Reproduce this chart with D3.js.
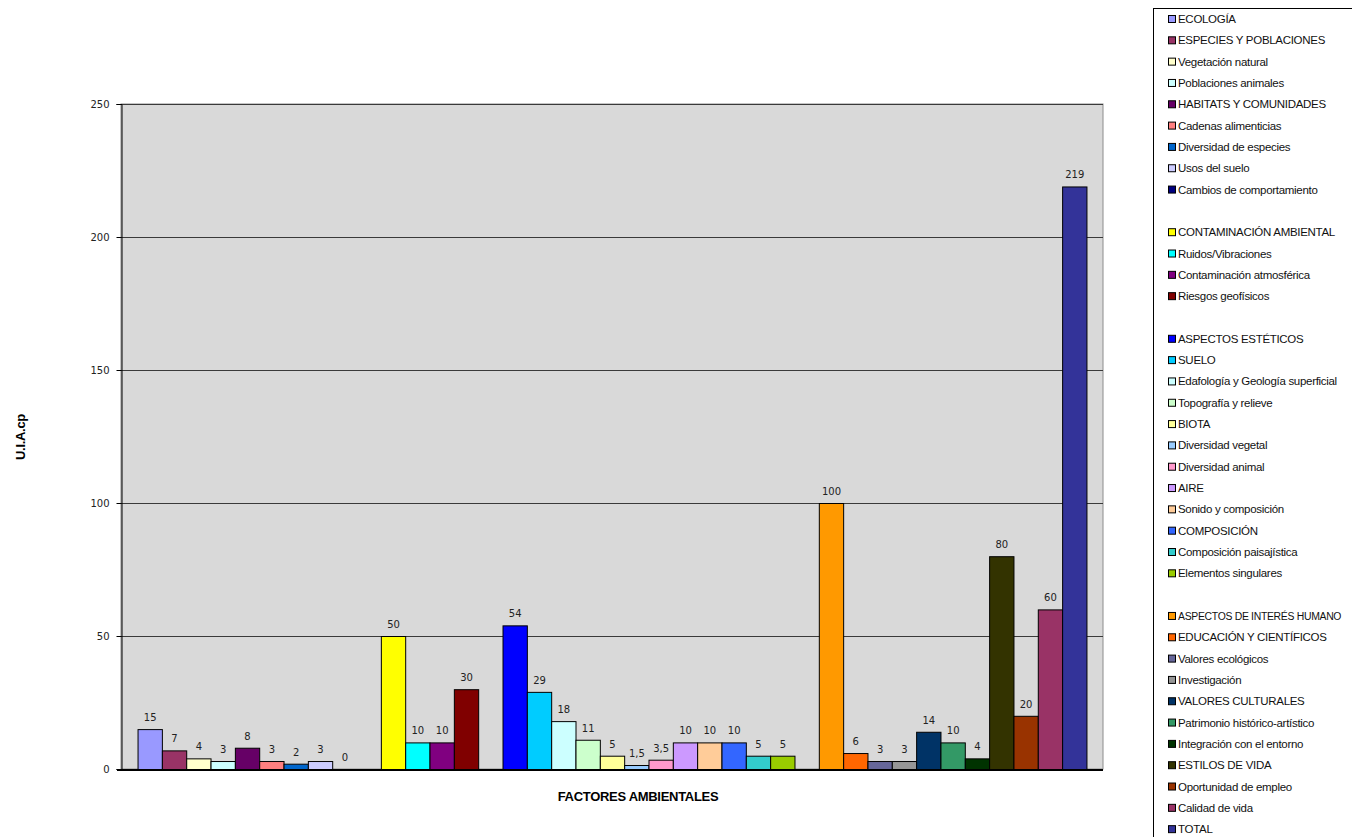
<!DOCTYPE html>
<meta charset="utf-8">
<style>
  body { margin: 0; background: #fff; }
  text { font-family: "DejaVu Sans", Verdana, sans-serif; }
  .legend text { font-family: "Liberation Sans", Arial, sans-serif; font-size: 11.5px; letter-spacing: -0.3px; }
  .title { font-family: "Liberation Sans", Arial, sans-serif; font-weight: bold; font-size: 13px; letter-spacing: -0.3px; }
</style>
<svg width="1352" height="837"></svg>
<script src="https://d3js.org/d3.v7.min.js"></script>
<script>

// one series per slot, blank names are the empty spacer series
var seriesNames = [
  "ECOLOGÍA", "ESPECIES Y POBLACIONES", "Vegetación natural", "Poblaciones animales",
  "HABITATS Y COMUNIDADES", "Cadenas alimenticias", "Diversidad de especies", "Usos del suelo",
  "Cambios de comportamiento", "",
  "CONTAMINACIÓN AMBIENTAL", "Ruidos/Vibraciones", "Contaminación atmosférica", "Riesgos geofísicos", "",
  "ASPECTOS ESTÉTICOS", "SUELO", "Edafología y Geología superficial", "Topografía y relieve",
  "BIOTA", "Diversidad vegetal", "Diversidad animal", "AIRE", "Sonido y composición",
  "COMPOSICIÓN", "Composición paisajística", "Elementos singulares", "",
  "ASPECTOS DE INTERÉS HUMANO", "EDUCACIÓN Y CIENTÍFICOS", "Valores ecológicos", "Investigación",
  "VALORES CULTURALES", "Patrimonio histórico-artístico", "Integración con el entorno",
  "ESTILOS DE VIDA", "Oportunidad de empleo", "Calidad de vida", "TOTAL"
]

var seriesValues = [
  15, 7, 4, 3, 8, 3, 2, 3, 0, null,
  50, 10, 10, 30, null,
  54, 29, 18, 11, 5, 1.5, 3.5, 10, 10, 10, 5, 5, null,
  100, 6, 3, 3, 14, 10, 4, 80, 20, 60, 219
]

var seriesColors = [
  "#9999FF", "#993366", "#FFFFCC", "#CCFFFF", "#660066", "#FF8080", "#0066CC", "#CCCCFF", "#000080", null,
  "#FFFF00", "#00FFFF", "#800080", "#800000", null,
  "#0000FF", "#00CCFF", "#CCFFFF", "#CCFFCC", "#FFFF99", "#99CCFF", "#FF99CC", "#CC99FF", "#FFCC99",
  "#3366FF", "#33CCCC", "#99CC00", null,
  "#FF9900", "#FF6600", "#666699", "#969696", "#003366", "#339966", "#003300", "#333300", "#993300",
  "#993366", "#333399"
]

var yTicks = [0, 50, 100, 150, 200, 250]

var series = seriesNames.map(function (name, i) {
  return { i: i, name: name, value: seriesValues[i], color: seriesColors[i] }
})

var svg = d3.select('svg')

var plot = { left: 121, right: 1103, top: 104, bottom: 769 }

var x = d3.scaleBand()
  .domain(d3.range(series.length))
  .range([plot.left, plot.right])
  .paddingInner(0)
  .paddingOuter(0.68)

var y = d3.scaleLinear().domain([0, 250]).range([plot.bottom, plot.top])

// plot background
svg.append('rect')
  .attr('x', plot.left).attr('y', plot.top)
  .attr('width', plot.right - plot.left).attr('height', plot.bottom - plot.top)
  .attr('fill', '#D9D9D9')
  .attr('stroke', '#8c8c8c')

// gridlines
svg.append('g').selectAll('line')
  .data(yTicks.filter(function (t) { return t > 0 }))
  .enter().append('line')
  .attr('x1', plot.left).attr('x2', plot.right)
  .attr('y1', function (t) { return y(t) + 0.5 })
  .attr('y2', function (t) { return y(t) + 0.5 })
  .attr('stroke', '#3a3a3a')

// y axis
var yAxis = d3.axisLeft(y).tickValues(yTicks).tickSize(5).tickPadding(7)
var yg = svg.append('g')
  .attr('transform', 'translate(' + (plot.left + 0.5) + ',0)')
  .call(yAxis)
yg.select('.domain').attr('stroke', '#000')
yg.selectAll('.tick line').attr('stroke', '#000')
yg.selectAll('.tick text').attr('font-size', 10).attr('fill', '#222')
  .attr('font-family', '"DejaVu Sans", Verdana, sans-serif')

// bars
var bars = series.filter(function (d) { return d.value !== null })

svg.append('g').selectAll('rect')
  .data(bars.filter(function (d) { return d.value > 0 }))
  .enter().append('rect')
  .attr('x', function (d) { return x(d.i) + 0.5 })
  .attr('y', function (d) { return y(d.value) + 0.5 })
  .attr('width', x.bandwidth())
  .attr('height', function (d) { return y(0) - y(d.value) })
  .attr('fill', function (d) { return d.color })
  .attr('stroke', '#000')
  .attr('stroke-width', 1)

// x axis line
svg.append('line')
  .attr('x1', plot.left - 4).attr('x2', plot.right)
  .attr('y1', plot.bottom + 1).attr('y2', plot.bottom + 1)
  .attr('stroke', '#000').attr('stroke-width', 2)

// value labels
svg.append('g').selectAll('text')
  .data(bars)
  .enter().append('text')
  .attr('x', function (d) { return x(d.i) + x.bandwidth() / 2 + 0.5 })
  .attr('y', function (d) { return y(d.value) - 8 })
  .attr('text-anchor', 'middle')
  .attr('font-size', 10)
  .attr('fill', '#222')
  .text(function (d) { return String(d.value).replace('.', ',') })

// axis titles
svg.append('text').attr('class', 'title')
  .attr('x', 638).attr('y', 801)
  .attr('text-anchor', 'middle')
  .text('FACTORES AMBIENTALES')

svg.append('text').attr('class', 'title')
  .attr('transform', 'translate(25,' + 437 + ') rotate(-90)')
  .attr('text-anchor', 'middle')
  .text('U.I.A.cp')

// legend
var legend = svg.append('g').attr('class', 'legend')
legend.append('rect')
  .attr('x', 1153.5).attr('y', 8.5).attr('width', 220).attr('height', 860)
  .attr('fill', '#fff').attr('stroke', '#000')

var item = legend.selectAll('g.item')
  .data(series.filter(function (d) { return d.name !== '' }))
  .enter().append('g').attr('class', 'item')
  .attr('transform', function (d) { return 'translate(0,' + (19 + d.i * 21.32) + ')' })

item.append('rect')
  .attr('x', 1168.5).attr('y', -3.5).attr('width', 7).attr('height', 7)
  .attr('fill', function (d) { return d.color })
  .attr('stroke', '#000')

var maxLabel = 164
item.append('text')
  .attr('x', 1178).attr('y', 4)
  .attr('fill', '#111')
  .text(function (d) { return d.name })
  .each(function () {
    // shrink the few long names so they stay inside the window
    var w = this.getComputedTextLength()
    if (w > maxLabel) {
      d3.select(this).style('font-size', (11.5 * maxLabel / w).toFixed(2) + 'px')
    }
  })

</script>
